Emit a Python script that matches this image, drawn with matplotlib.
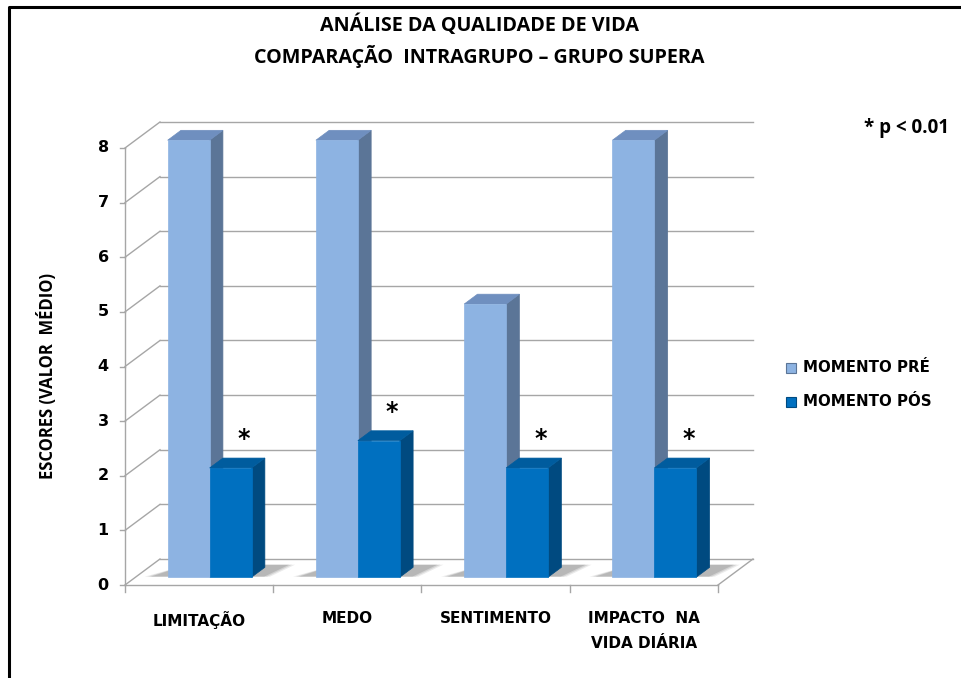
import numpy as np
import matplotlib.pyplot as plt
from matplotlib.patches import Polygon, Rectangle
from matplotlib.lines import Line2D

# Data
categories = ['LIMITAÇÃO', 'MEDO', 'SENTIMENTO', 'IMPACTO  NA\nVIDA DIÁRIA']
pre_values = [8, 8, 5, 8]
pos_values = [2, 2.5, 2, 2]
significant = [True, True, True, True]
y_ticks = [0, 1, 2, 3, 4, 5, 6, 7, 8]
series_names = ['MOMENTO PRÉ', 'MOMENTO PÓS']

# colours (front, side, top)
pre_colors = ('#8DB3E2', '#5B7597', '#6F8FBF')
pos_colors = ('#0070C0', '#004A80', '#005C9E')

# fake 3D depth, in data units
DX = 0.236
DY = 0.476
T0, T1 = 0.30, 0.68
BAR_W = 0.283

W, H = 961, 678
fig = plt.figure(figsize=(W / 100, H / 100), dpi=100)
ax = fig.add_axes([125 / W, (H - 585) / H, 593 / W, 437 / H])
ax.set_xlim(0, len(categories))
ax.set_ylim(0, 8)
ax.axis('off')


def proj(x, y, t):
    return (x + t * DX, y + t * DY)


grid = '#A6A6A6'
n = len(categories)

# back wall gridlines and left wall diagonals
for v in y_ticks:
    ax.add_line(Line2D([proj(0, v, 1)[0], proj(n, v, 1)[0]],
                       [proj(0, v, 1)[1], proj(n, v, 1)[1]],
                       color=grid, lw=1, clip_on=False, zorder=1))
    ax.add_line(Line2D([0, DX], [v, v + DY], color=grid, lw=1, clip_on=False, zorder=1))
    ax.add_line(Line2D([-0.035, 0], [v, v], color=grid, lw=1, clip_on=False, zorder=1))

# front axis, floor edges, category ticks
ax.add_line(Line2D([0, 0], [0, 8], color=grid, lw=1, clip_on=False, zorder=1))
ax.add_line(Line2D([0, n], [0, 0], color=grid, lw=1, clip_on=False, zorder=1))
ax.add_line(Line2D([n, n + DX], [0, DY], color=grid, lw=1, clip_on=False, zorder=1))
for i in range(n + 1):
    ax.add_line(Line2D([i, i], [0, -0.12], color=grid, lw=1, clip_on=False, zorder=1))


def draw_bar(x0, h, colors):
    x1 = x0 + BAR_W
    front = [proj(x0, 0, T0), proj(x1, 0, T0), proj(x1, h, T0), proj(x0, h, T0)]
    side = [proj(x1, 0, T0), proj(x1, 0, T1), proj(x1, h, T1), proj(x1, h, T0)]
    top = [proj(x0, h, T0), proj(x1, h, T0), proj(x1, h, T1), proj(x0, h, T1)]
    for pts, c in ((side, colors[1]), (top, colors[2]), (front, colors[0])):
        ax.add_patch(Polygon(pts, closed=True, facecolor=c, edgecolor=c,
                             lw=0.5, clip_on=False, zorder=3))


for i in range(n):
    left = i + 0.5 - BAR_W
    right = i + 0.5 + BAR_W
    # soft floor shadow
    for k, a in enumerate([0.10, 0.14, 0.18]):
        s = 0.06 - k * 0.02
        shadow = [proj(left - 0.10 - s, 0, T0 + 0.02), proj(right + 0.06 + s, 0, T0 + 0.02),
                  proj(right + 0.12 + s, 0, T1 + 0.1), proj(left + 0.02, 0, T1 + 0.1)]
        ax.add_patch(Polygon(shadow, closed=True, facecolor='#404040', edgecolor='none',
                             alpha=a, clip_on=False, zorder=2))
    draw_bar(left, pre_values[i], pre_colors)
    draw_bar(i + 0.5, pos_values[i], pos_colors)
    if significant[i]:
        sx, sy = proj(i + 0.5 + BAR_W / 2, pos_values[i] + 0.34, T1)
        ax.text(sx, sy, '*', ha='center', va='center', fontsize=17,
                fontweight='heavy', family='DejaVu Sans', zorder=4)

# tick labels
for v in y_ticks:
    ax.text(-0.11, v, str(v), ha='right', va='center', fontsize=11.5,
            fontweight='heavy', family='DejaVu Sans')
for i, c in enumerate(categories):
    ax.text(i + 0.5, -0.47, c, ha='center', va='top', fontsize=11,
            fontweight='heavy', family='DejaVu Sans', linespacing=1.85)

# axis label
fig.text(47 / W, 1 - 376 / H, 'ESCORES (VALOR  MÉDIO)', rotation=90, ha='center',
         va='center', fontsize=12, fontweight='bold', family='Open Sans')

# title
fig.text(479 / W, 1 - 25 / H, 'ANÁLISE DA QUALIDADE DE VIDA', ha='center', va='center',
         fontsize=14.2, fontweight='bold', family='Open Sans')
fig.text(479 / W, 1 - 57 / H, 'COMPARAÇÃO  INTRAGRUPO – GRUPO SUPERA', ha='center',
         va='center', fontsize=14.2, fontweight='bold', family='Open Sans')

fig.text(906 / W, 1 - 128 / H, '* p < 0.01', ha='center', va='center',
         fontsize=13.5, fontweight='bold', family='Open Sans')

# legend
for j, (name, cols) in enumerate(zip(series_names, (pre_colors, pos_colors))):
    yc = 368 + j * 34
    fig.patches.append(Rectangle((786 / W, 1 - (yc + 5) / H), 10 / W, 10 / H,
                                 transform=fig.transFigure, facecolor=cols[0],
                                 edgecolor=cols[1], lw=0.8))
    fig.text(803 / W, 1 - yc / H, name, ha='left', va='center', fontsize=10.8,
             fontweight='heavy', family='DejaVu Sans')

# frame on left and top
fig.lines.append(Line2D([9 / W, 9 / W, 1], [0, 1 - 7 / H, 1 - 7 / H],
                        transform=fig.transFigure, color='black', lw=2.2))

fig.savefig('out.png', dpi=100)
